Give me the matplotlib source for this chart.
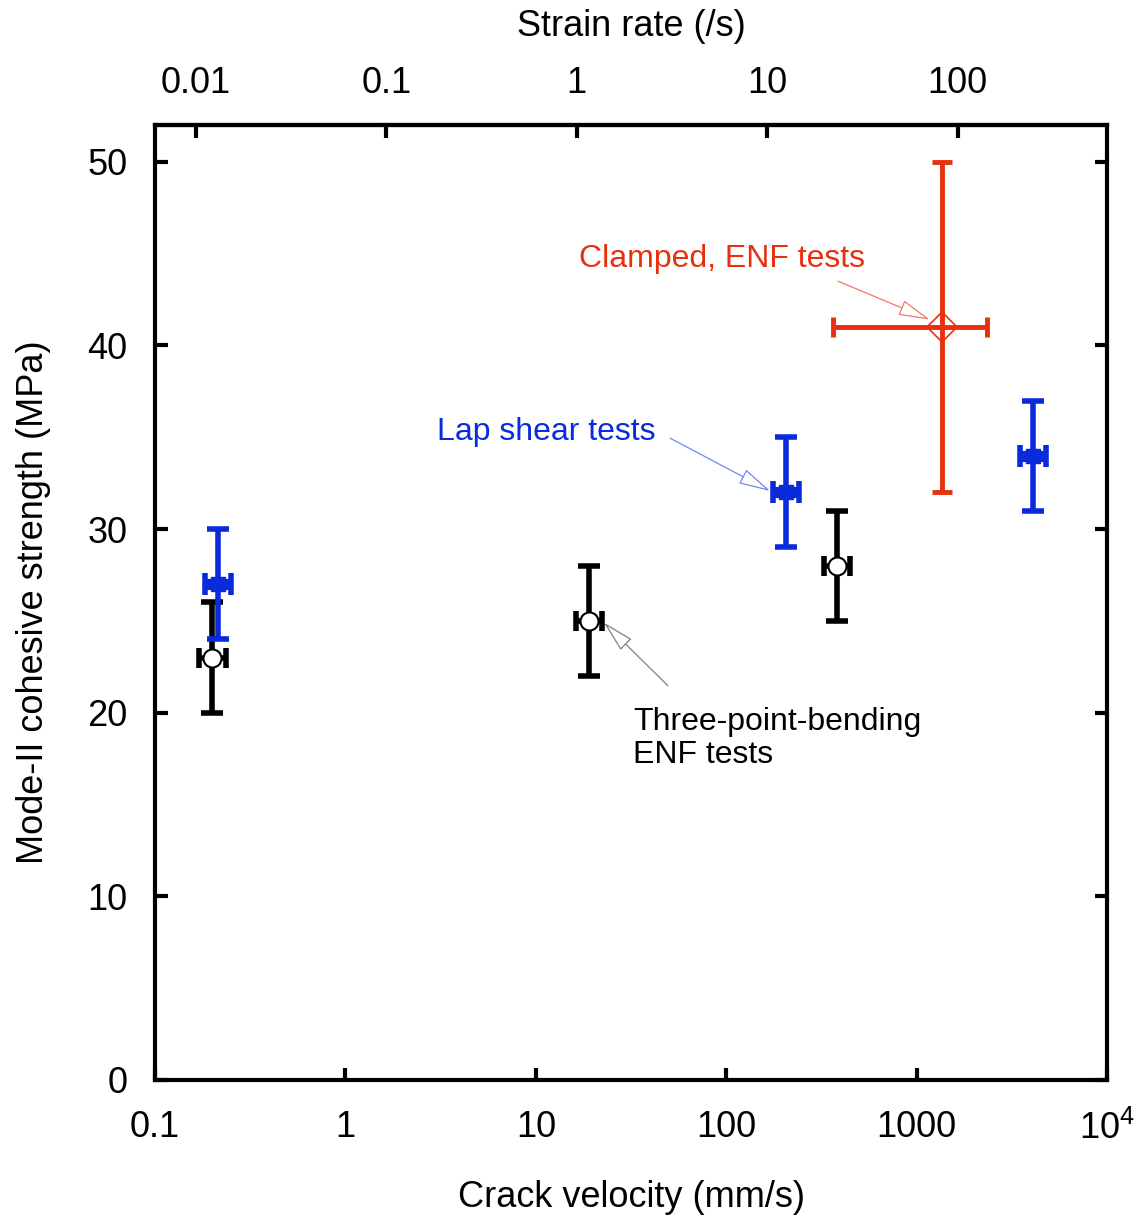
import matplotlib
matplotlib.use("Agg")
import matplotlib.pyplot as plt
from matplotlib.ticker import FixedLocator, FixedFormatter, NullLocator

plt.rcParams['font.family'] = ['Liberation Sans', 'DejaVu Sans']
plt.rcParams['mathtext.fontset'] = 'custom'
plt.rcParams['mathtext.rm'] = 'Liberation Sans'

# ---- data (crack velocity mm/s, strength MPa) ----
tpb_v = [0.2, 19.0, 380.0]
tpb_s = [23.0, 25.0, 28.0]
tpb_serr = [3.0, 3.0, 3.0]
tpb_vlo = [0.03, 2.8, 55.0]
tpb_vhi = [0.035, 3.3, 65.0]

lap_v = [0.214, 205.0, 4100.0]
lap_s = [27.0, 32.0, 34.0]
lap_serr = [3.0, 3.0, 3.0]
lap_vlo = [0.03, 30.0, 600.0]
lap_vhi = [0.037, 35.0, 700.0]

cl_v = [1365.0]
cl_s = [41.0]
cl_serr = [9.0]
cl_vlo = [1000.0]
cl_vhi = [990.0]

xticks = [0.1, 1, 10, 100, 1000, 10000]
xticklabels = ['0.1', '1', '10', '100', '1000', r'$\mathregular{10^4}$']
yticks = [0, 10, 20, 30, 40, 50]
top_ticks = [0.01, 0.1, 1, 10, 100]
top_labels = ['0.01', '0.1', '1', '10', '100']
rate_factor = 16.4  # crack velocity (mm/s) per strain rate (/s)

black = 'black'
blue = '#0a2bdc'
red = '#e8300e'

fig = plt.figure(figsize=(11.38, 12.2), dpi=100)
ax = fig.add_axes([0.1362, 0.1148, 0.8366, 0.7827])
ax.set_xscale('log')
ax.set_xlim(0.1, 1e4)
ax.set_ylim(0, 52)

# errorbars
ax.errorbar(tpb_v, tpb_s, yerr=tpb_serr, fmt='none', ecolor=black, elinewidth=4,
            capsize=8, capthick=4, zorder=3)
ax.errorbar(tpb_v, tpb_s, xerr=[tpb_vlo, tpb_vhi], fmt='none', ecolor=black, elinewidth=4,
            capsize=7, capthick=4, zorder=4)
ax.plot(tpb_v, tpb_s, 'o', ms=13, mfc='white', mec=black, mew=1.5, zorder=5)

ax.errorbar(lap_v, lap_s, yerr=lap_serr, fmt='none', ecolor=blue, elinewidth=4,
            capsize=8, capthick=4, zorder=3)
ax.errorbar(lap_v, lap_s, xerr=[lap_vlo, lap_vhi], fmt='none', ecolor=blue, elinewidth=8,
            capsize=8, capthick=4, zorder=4)
ax.plot(lap_v, lap_s, 's', ms=10, color=blue, zorder=5)

ax.errorbar(cl_v, cl_s, yerr=cl_serr, xerr=[cl_vlo, cl_vhi], fmt='none', ecolor=red,
            elinewidth=3.5, capsize=7, capthick=3.5, zorder=3)
ax.plot(cl_v, cl_s, 'D', ms=15, mfc='none', mec=red, mew=1.2, zorder=5)

# ticks
ax.xaxis.set_major_locator(FixedLocator(xticks))
ax.xaxis.set_major_formatter(FixedFormatter(xticklabels))
ax.xaxis.set_minor_locator(NullLocator())
ax.set_yticks(yticks)
ax.tick_params(axis='both', which='major', direction='in', length=9, width=3,
               labelsize=26, pad=22)
ax.tick_params(axis='y', right=True, pad=20)
for s in ax.spines.values():
    s.set_linewidth(3)

sec = ax.secondary_xaxis('top', functions=(lambda v: v / rate_factor, lambda r: r * rate_factor))
sec.set_xscale('log')
sec.xaxis.set_major_locator(FixedLocator(top_ticks))
sec.xaxis.set_major_formatter(FixedFormatter(top_labels))
sec.xaxis.set_minor_locator(NullLocator())
sec.tick_params(axis='x', direction='in', length=9, width=3, labelsize=26, pad=17)
sec.spines['top'].set_linewidth(3)
sec.set_xlabel('Strain rate (/s)', fontsize=26, labelpad=22)

ax.set_xlabel('Crack velocity (mm/s)', fontsize=26, labelpad=24)
ax.set_ylabel('Mode-II cohesive strength (MPa)', fontsize=26, labelpad=26)

# annotations
arrow_kw = dict(arrowstyle='-|>,head_length=2.0,head_width=0.5', fc='white', lw=0.9,
                shrinkA=0, shrinkB=0)
ax.text(95, 44.7, 'Clamped, ENF tests', fontsize=23, color=red, ha='center', va='center')
ax.annotate('', xy=(1175, 41.4), xytext=(386, 43.5),
            arrowprops=dict(ec='#f07a66', **arrow_kw))
ax.text(11.4, 35.3, 'Lap shear tests', fontsize=23, color=blue, ha='center', va='center')
ax.annotate('', xy=(170, 32.07), xytext=(50.7, 34.95),
            arrowprops=dict(ec='#7088f0', **arrow_kw))
ax.text(32.4, 18.6, 'Three-point-bending\nENF tests', fontsize=23, color=black,
        ha='left', va='center', linespacing=1.15)
ax.annotate('', xy=(22.8, 24.9), xytext=(49.4, 21.47),
            arrowprops=dict(ec='#808080', **arrow_kw))

fig.savefig('out.png', dpi=100)
